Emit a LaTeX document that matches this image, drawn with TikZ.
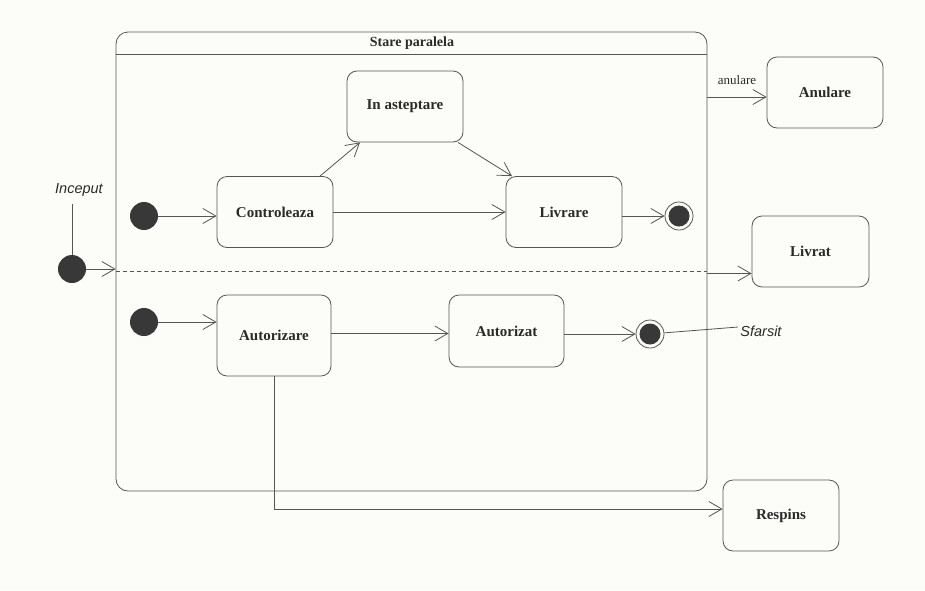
\documentclass[tikz,border=0pt]{standalone}
\usepackage{fontspec}
\setmainfont{Liberation Serif}
\setsansfont{Liberation Sans}
\usetikzlibrary{arrows.meta}
\definecolor{bg}{HTML}{FCFCF8}
\definecolor{ln}{HTML}{555555}
\definecolor{tx}{HTML}{2A2A2A}
\definecolor{dot}{HTML}{383838}
\begin{document}
\begin{tikzpicture}[x=1pt,y=-1pt,
  every path/.style={line width=0.8pt},
  state/.style={draw=ln, fill=bg, rounded corners=10pt, minimum width=116pt, minimum height=71pt, inner sep=0pt, text=tx, font=\fontsize{15}{17}\selectfont\bfseries},
  initdot/.style={circle, fill=dot, minimum size=28pt, inner sep=0pt},
  finaldot/.style={circle, draw=ln, fill=bg, minimum size=28pt, inner sep=0pt, path picture={\fill[dot] (path picture bounding box.center) circle (10.5pt);}},
  conn/.style={draw=ln, -{Straight Barb[length=13pt,width=15pt,line width=0.8pt]}},
  plain/.style={draw=ln},
  note/.style={font=\fontsize{14.5}{16}\selectfont\sffamily\itshape, text=tx, inner sep=1pt},
  lbl/.style={font=\fontsize{13}{15}\selectfont, text=tx, inner sep=1pt}
]
\fill[bg] (0,0) rectangle (925,590);
\useasboundingbox (0,0) rectangle (925,590);

% composite state
\node[draw=ln, rounded corners=12pt, minimum width=591pt, minimum height=459pt, inner sep=0pt] (sp) at (411.5,261.5) {};
\draw[plain] (sp.west |- 0,54) -- (sp.east |- 0,54);
\node[font=\fontsize{14}{16}\selectfont\bfseries, text=tx] (title) at (412,43) {Stare paralela};
\draw[draw=ln, dash pattern=on 4pt off 3pt] (sp.west |- 0,271.5) -- (sp.east |- 0,271.5);

% states
\node[state] (ctrl) at (275,212) {Controleaza};
\node[state] (wait) at (405,106.5) {In asteptare};
\node[state] (livr) at (564,212) {Livrare};
\node[state] (anul) at (825,92.5) {Anulare};
\node[state, minimum width=117pt] (livrat) at (810.5,251.5) {Livrat};
\node[state, minimum width=114pt, minimum height=81pt] (autz) at (274,335.5) {Autorizare};
\node[state, minimum width=115pt, minimum height=72pt] (autd) at (506.5,331) {Autorizat};
\node[state] (resp) at (781,515.5) {Respins};

% pseudo states
\node[initdot] (i0) at (72,269) {};
\node[initdot] (i1) at (144,216) {};
\node[initdot] (i2) at (144,322) {};
\node[finaldot] (f1) at (679,216) {};
\node[finaldot] (f2) at (650,334) {};

% notes
\node[note] (inc) at (79,190) {Inceput};
\coordinate (incb) at (72,204);
\draw[plain] (incb) -- (i0);
\node[note, anchor=west] (sfa) at (739,331) {Sfarsit};
\coordinate (sfl) at (738,327);
\draw[plain] (f2) -- (sfl);

% transitions
\draw[conn] (i0) -- (i0 -| sp.west);
\draw[conn] (i1) -- (i1 -| ctrl.west);
\draw[conn] ([xshift=45pt]ctrl.north) -- ([xshift=-45pt]wait.south);
\draw[conn] ([xshift=53pt]wait.south) -- ([xshift=-52pt]livr.north);
\draw[conn] (ctrl) -- (livr);
\draw[conn] (livr.east |- f1) -- (f1);
\draw[conn] ([yshift=-4.5pt]anul.west -| sp.east) -- ([yshift=-4.5pt]anul.west);
\node[lbl, anchor=south] (anl) at (737,86) {anulare};
\draw[conn] ([yshift=-22pt]livrat.west -| sp.east) -- ([yshift=-22pt]livrat.west);
\draw[conn] (i2) -- (i2 -| autz.west);
\draw[conn] ([yshift=2pt]autz.east) -- ([yshift=-2.5pt]autd.west);
\draw[conn] (autd.east |- f2) -- (f2);
\draw[conn] (autz.south) |- ([yshift=6.5pt]resp.west);
\end{tikzpicture}
\end{document}
